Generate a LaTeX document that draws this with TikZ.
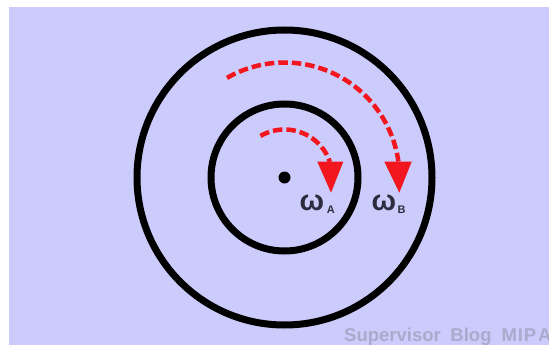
\documentclass[tikz,border=0pt]{standalone}
\usepackage{fontspec}
\setmainfont{Liberation Sans}
\usetikzlibrary{calc}
\definecolor{bg}{RGB}{204,204,252}
\definecolor{arrowred}{RGB}{242,22,30}
\definecolor{labelgray}{RGB}{44,44,62}
\definecolor{wm}{RGB}{170,170,205}
\tikzset{
  ring/.style={draw=black, line width=7pt},
  rotarrow/.style={draw=arrowred, line width=4.5pt, dash pattern=on 9.5pt off 4pt},
  arrowhead/.style={fill=arrowred, draw=none},
  omega/.style={text=labelgray, font=\fontsize{29}{29}\selectfont\bfseries, inner sep=0pt, anchor=base west},
  subs/.style={text=labelgray, font=\fontsize{11}{11}\selectfont\bfseries, inner sep=0pt, anchor=base west},
  wmark/.style={text=wm, font=\fontsize{18.5}{18.5}\selectfont\bfseries, inner sep=0pt, anchor=base west}
}
\begin{document}
\begin{tikzpicture}[x=1pt,y=-1pt]
\useasboundingbox (0,0) rectangle (549,345);
\fill[white] (0,0) rectangle (549,345);
\fill[bg] (8.7,7.5) rectangle (549,345);
\coordinate (c) at (284.5,177.5);
% rings
\draw[ring] (c) circle[radius=147.5];
\draw[ring] (c) circle[radius=73.5];
\fill[black] (c) circle[radius=6];
% rotation arrows
\draw[rotarrow] ($(c)+(-120:115)$) arc[start angle=-120, end angle=-8, radius=115];
\fill[arrowhead] (384.3,161.7) -- (411.7,161.7) -- (399.3,192.7) -- cycle;
\draw[rotarrow] ($(c)+(-120:48)$) arc[start angle=-120, end angle=-19, radius=48];
\fill[arrowhead] (317.3,161.7) -- (343.3,161.7) -- (331,192.7) -- cycle;
% labels
\node[omega] (wa) at (299.5,210) {ω};
\node[subs] (sa) at (326.7,213.5) {A};
\node[omega] (wb) at (371.5,210) {ω};
\node[subs] (sb) at (397.5,213.5) {B};
% watermark (cut off at the right edge, as in the reference)
\begin{scope}
\clip (8.7,7.5) rectangle (549,345);
\node[wmark] (wm) at (344,341.3) {Supervisor\hspace{4.5pt} Blog\hspace{5pt} M\kern0.8pt I\kern0.8pt P\kern2pt A};
\end{scope}
\end{tikzpicture}
\end{document}
